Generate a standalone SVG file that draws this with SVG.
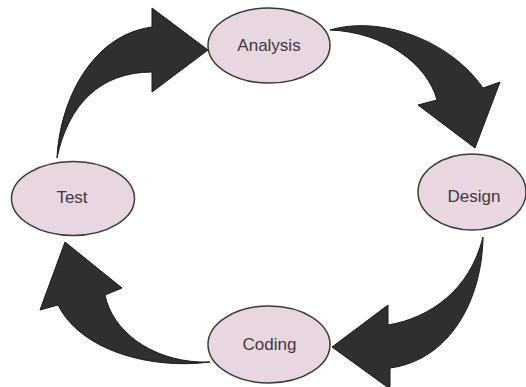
<svg xmlns="http://www.w3.org/2000/svg" width="526" height="387" viewBox="0 0 526 387">
<style>
.node ellipse{fill:#e8d7e0;stroke:#3a3a3a;stroke-width:1.5}
.node text{font-family:"Liberation Sans",Arial,sans-serif;font-size:17px;fill:#3e3a3e;text-anchor:middle;dominant-baseline:central}
.arrow{fill:#2f2f2f;stroke:#1a1a1a;stroke-width:1;stroke-linejoin:miter}
</style>
<rect width="526" height="387" fill="#ffffff"/>
<g id="connectors">
<path class="arrow" d="M57,158 C60,100 92,35 152,27 L152,8 L208,50 L152,92 L152,72 C100,72 68,105 57,158 Z"/>
<path class="arrow" d="M330,30 C380,15 450,40 483,88 L500,82 L475,148 L418,105 L437,100 C428,65 385,32 330,30 Z"/>
<path class="arrow" d="M483,237 C482,300 450,360 390,368 L390,389 L332,347 L388,305 L388,325 C430,318 470,290 483,237 Z"/>
<path class="arrow" d="M210,362 C150,370 80,350 58,305 L40,310 L65,242 L122,288 L105,295 C112,330 150,360 200,362 Z"/>
</g>
<g id="analysis" class="node"><ellipse cx="269" cy="45.5" rx="61" ry="37.5"/><text x="269" y="45">Analysis</text></g>
<g id="design" class="node"><ellipse cx="472" cy="192" rx="54" ry="38"/><text x="474" y="196">Design</text></g>
<g id="test" class="node"><ellipse cx="73" cy="198.5" rx="61.5" ry="37"/><text x="72" y="197">Test</text></g>
<g id="coding" class="node"><ellipse cx="269" cy="344.5" rx="61" ry="38.5"/><text x="269.5" y="344">Coding</text></g>
</svg>
